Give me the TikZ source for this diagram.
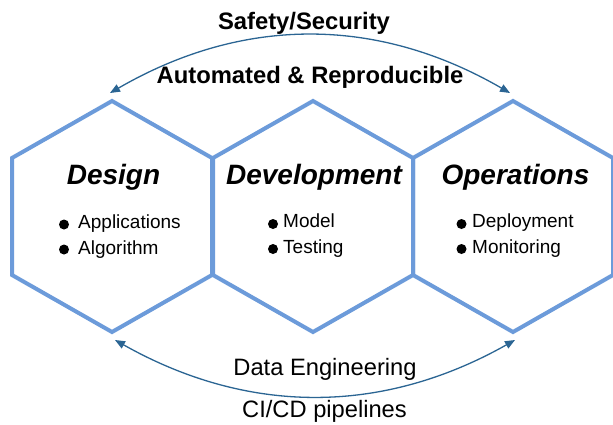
\documentclass[tikz,border=0pt]{standalone}
\usepackage{fontspec}
\setmainfont{Liberation Sans}
\usetikzlibrary{arrows.meta}
\definecolor{hexblue}{HTML}{6C9BDA}
\definecolor{arcblue}{HTML}{2B6593}
\tikzset{
  hexline/.style={draw=hexblue, line width=4pt, line join=miter},
  title/.style={anchor=base, font=\fontsize{28}{31}\selectfont\bfseries\itshape, inner sep=0pt},
  item/.style={anchor=base west, font=\fontsize{19}{22}\selectfont, inner sep=0pt},
  bul/.style={circle, fill=black, inner sep=0pt, minimum size=10pt},
  arcline/.style={draw=arcblue, line width=1.3pt, {Triangle[length=10pt,width=8pt]}-{Triangle[length=10pt,width=8pt]}},
  toplabel/.style={anchor=base, font=\fontsize{23.8}{26}\selectfont\bfseries, inner sep=0pt},
  botlabel/.style={anchor=base, font=\fontsize{23.7}{26}\selectfont, inner sep=0pt}
}
\begin{document}
\begin{tikzpicture}[x=1pt,y=-1pt]
\useasboundingbox (0,0) rectangle (613,424);
% hexagons
\foreach \cx in {112,313,513}{
  \draw[hexline] (\cx,101) -- (\cx+100,158) -- (\cx+100,275) -- (\cx,332) -- (\cx-100,275) -- (\cx-100,158) -- cycle;
}
% titles
\node[title] (tdes) at (113.5,184) {Design};
\node[title] (tdev) at (314,184) {Development};
\node[title] (tops) at (515.5,184) {Operations};
% Design items
\node[bul] (b1) at (64,224.5) {};
\node[item] (i1) at (78,228) {Applications};
\node[bul] (b2) at (64,249.5) {};
\node[item] (i2) at (78,254) {Algorithm};
% Development items
\node[bul] (b3) at (273,224) {};
\node[item] (i3) at (283,227) {Model};
\node[bul] (b4) at (273,249) {};
\node[item] (i4) at (283,253) {Testing};
% Operations items
\node[bul] (b5) at (461.5,224) {};
\node[item] (i5) at (472,227) {Deployment};
\node[bul] (b6) at (461.5,249) {};
\node[item] (i6) at (472,253) {Monitoring};
% top labels
\node[toplabel] (ls) at (304,29) {Safety/Security};
\node[toplabel] (la) at (310,83) {Automated \& Reproducible};
% bottom labels
\node[botlabel] (lde) at (325,375) {Data Engineering};
\node[botlabel] (lci) at (324.5,417) {CI/CD pipelines};
% arcs
\coordinate (tl) at (110,93);
\coordinate (tr) at (510,93);
\coordinate (bl) at (115,340);
\coordinate (br) at (515,340);
\draw[arcline] (tl) .. controls (243,16) and (377,16) .. (tr);
\draw[arcline] (bl) .. controls (248,415) and (382,415) .. (br);
\end{tikzpicture}
\end{document}
